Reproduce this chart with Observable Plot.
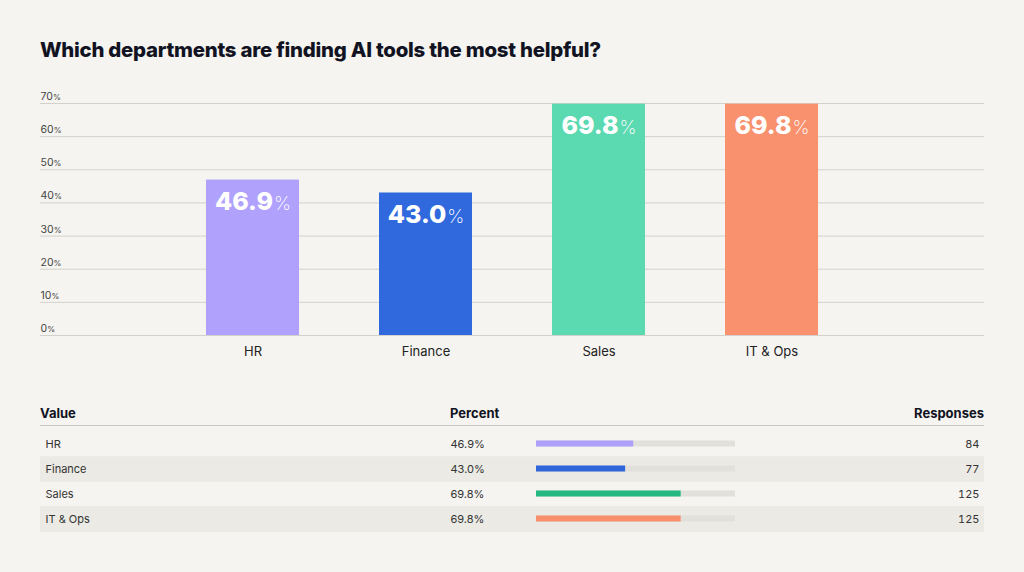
<!DOCTYPE html>
<html>
<head>
<meta charset="utf-8">
<script src="https://cdn.jsdelivr.net/npm/d3@7"></script>
<script src="https://cdn.jsdelivr.net/npm/@observablehq/plot@0.6"></script>
<style>
  html, body { margin: 0; padding: 0; background: #f5f4f0; }
  body { width: 1024px; height: 572px; position: relative; overflow: hidden; font-family: Inter, "Noto Sans", sans-serif; }
  #title { position: absolute; left: 40px; top: 38px; font-size: 20.4px; font-weight: 800; color: #111322; letter-spacing: -0.25px; line-height: 24px; }
  #chart { position: absolute; left: 0; top: 80px; }
  #thead { position: absolute; left: 40px; top: 400px; width: 944px; height: 25px; border-bottom: 1px solid #c9c8c3; font-size: 13px; font-weight: 700; color: #111322; }
  #thead span { position: absolute; top: 5px; }
  #table { position: absolute; left: 0; top: 430px; }
</style>
</head>
<body>
<div id="title">Which departments are finding AI tools the most helpful?</div>
<div id="chart"></div>
<div id="thead"><span style="left:0">Value</span><span style="left:410px">Percent</span><span style="right:0">Responses</span></div>
<div id="table"></div>
<script>
const departments = ["HR", "Finance", "Sales", "IT & Ops"];
const percents = [46.9, 43.0, 69.8, 69.8];
const responses = [84, 77, 125, 125];
const barColors = ["#b0a1fd", "#3069dd", "#5bd9b1", "#f9916e"];
const miniColors = ["#ae9ffa", "#2f66da", "#23b884", "#f88f6d"];
const yTicks = [0, 10, 20, 30, 40, 50, 60, 70];
const trackMax = 96;

const data = departments.map((dept, i) => ({dept, pct: percents[i], resp: responses[i], row: i}));

const chart = Plot.plot({
  width: 1024,
  height: 290,
  marginLeft: 40,
  marginRight: 40,
  marginTop: 23,
  marginBottom: 35,
  style: {background: "transparent", fontFamily: "Inter, sans-serif", overflow: "visible"},
  x: {domain: departments, paddingInner: 0.462, paddingOuter: 0.95, label: null},
  y: {domain: [0, 70], axis: null},
  color: {domain: departments, range: barColors},
  marks: [
    Plot.ruleY(yTicks, {stroke: "#d3d1cc", strokeWidth: 1}),
    Plot.text(yTicks, {y: d => d, text: d => d + "%", frameAnchor: "left", textAnchor: "start", lineAnchor: "bottom", dy: -3.5, fontSize: 10.5, fill: "#444"}),
    Plot.barY(data, {x: "dept", y: "pct", fill: "dept"}),
    Plot.text(data, {x: "dept", y: "pct", text: d => d.pct.toFixed(1) + "%", lineAnchor: "top", dy: 12, fill: "white", fontSize: 25, fontWeight: 800}),
    Plot.axisX({tickSize: 0, tickPadding: 11, fontSize: 13, fill: "#222", label: null})
  ]
});
document.getElementById("chart").appendChild(chart);

// split the "%" into a separate, styled tspan
d3.select(chart).selectAll("text").each(function() {
  const el = d3.select(this);
  const t = el.text();
  const m = /^(\d+(?:\.\d)?)%$/.exec(t);
  if (!m) return;
  const size = +d3.select(this.parentNode).attr("font-size");
  el.text(null);
  el.append("tspan").text(m[1]);
  if (size >= 20) {
    el.append("tspan").attr("font-weight", 200).attr("font-size", 19).attr("dx", 1).text("%");
  } else {
    el.append("tspan").attr("font-size", 8).text("%");
  }
});

const table = Plot.plot({
  width: 1024,
  height: 102,
  marginLeft: 40,
  marginRight: 40,
  marginTop: 0,
  marginBottom: 0,
  style: {background: "transparent", fontFamily: "Inter, sans-serif"},
  x: {domain: [0, trackMax], range: [536, 735], axis: null},
  y: {domain: departments, padding: 0, axis: null},
  color: {domain: departments, range: miniColors},
  marks: [
    Plot.ruleY(data.filter(d => d.row % 2 === 1), {y: "dept", stroke: "#ebeae4", strokeWidth: 25.5}),
    Plot.barX(data, {x1: 0, x2: trackMax, y: "dept", fill: "#e1e0da", insetTop: 9.5, insetBottom: 9.5}),
    Plot.barX(data, {x1: 0, x2: "pct", y: "dept", fill: "dept", insetTop: 9.5, insetBottom: 9.5}),
    Plot.text(data, {y: "dept", text: "dept", frameAnchor: "left", textAnchor: "start", dx: 5, fontSize: 11, fill: "#333"}),
    Plot.text(data, {y: "dept", text: d => d.pct.toFixed(1) + "%", frameAnchor: "left", textAnchor: "start", dx: 410, fontSize: 11, fill: "#333"}),
    Plot.text(data, {y: "dept", text: "resp", frameAnchor: "right", textAnchor: "end", dx: -5, fontSize: 11, fill: "#333"})
  ]
});
document.getElementById("table").appendChild(table);
</script>
</body>
</html>
